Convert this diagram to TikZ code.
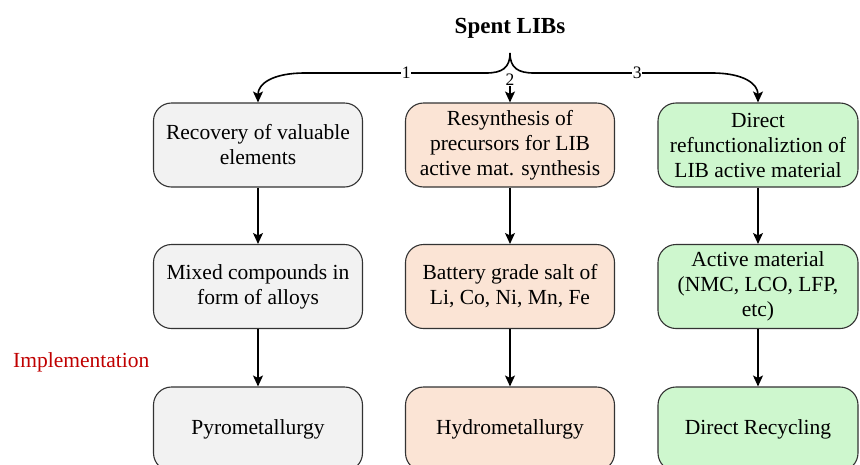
\documentclass[tikz,border=0pt]{standalone}
\usepackage{fontspec}
\setmainfont{Liberation Serif}
\usetikzlibrary{arrows.meta}
\definecolor{boxgray}{HTML}{F2F2F2}
\definecolor{boxpeach}{HTML}{FBE4D5}
\definecolor{boxgreen}{HTML}{CEF7CE}
\definecolor{edgegray}{HTML}{333333}
\definecolor{implred}{HTML}{C00000}
\tikzset{
  stage/.style={draw=edgegray, line width=1.1pt, rounded corners=18pt,
    minimum height=84pt, inner sep=0pt, align=center,
    font=\fontsize{21.5}{25}\selectfont},
  graybox/.style={stage, fill=boxgray, minimum width=209pt},
  peachbox/.style={stage, fill=boxpeach, minimum width=209pt},
  greenbox/.style={stage, fill=boxgreen, minimum width=200pt},
  flow/.style={line width=1.6pt, -{Stealth[length=11pt,width=10pt,inset=2.5pt]}},
  branch/.style={fill=white, inner sep=0.5pt, font=\fontsize{17.5}{19}\selectfont},
}
\begin{document}
\begin{tikzpicture}[x=1pt,y=-1pt]
\useasboundingbox (0,0) rectangle (860,464);

% title and side label
\node[font=\fontsize{23}{27}\selectfont\bfseries, anchor=base] (title) at (510,33) {Spent LIBs};
\node[text=implred, font=\fontsize{21.5}{25}\selectfont, anchor=west, inner sep=0pt] (impl) at (13,362) {Implementation};

% column 1
\node[graybox] (a1) at (258,145) {Recovery of valuable\\elements};
\node[graybox] (a2) at (258,286.5) {Mixed compounds in\\form of alloys};
\node[graybox] (a3) at (258,429) {Pyrometallurgy};

% column 2
\node[peachbox] (b1) at (510,145) {Resynthesis of\\precursors for LIB\\active mat. synthesis};
\node[peachbox] (b2) at (510,286.5) {Battery grade salt of\\Li, Co, Ni, Mn, Fe};
\node[peachbox] (b3) at (510,429) {Hydrometallurgy};

% column 3
\node[greenbox] (c1) at (758,145) {Direct\\refunctionaliztion of\\LIB active material};
\node[greenbox] (c2) at (758,286.5) {Active material\\(NMC, LCO, LFP,\\etc)};
\node[greenbox] (c3) at (758,429) {Direct Recycling};

% brace splitting into three routes
\coordinate (tip) at (510,53);
\draw[flow] (tip) .. controls (510,68) and (502,73) .. (486,73)
  -- (305,73) node[branch, pos=0.44] (n1) {1}
  .. controls (272,73) and (258,84) .. (a1.north);
\draw[flow] (tip) .. controls (510,68) and (518,73) .. (534,73)
  -- (712,73) node[branch, pos=0.58] (n3) {3}
  .. controls (744,73) and (758,84) .. (c1.north);
\node[branch, fill=none] (n2) at (510,80) {2};
\draw[flow] (n2.south) -- (b1.north);

% vertical flows
\draw[flow] (a1) -- (a2);
\draw[flow] (a2) -- (a3);
\draw[flow] (b1) -- (b2);
\draw[flow] (b2) -- (b3);
\draw[flow] (c1) -- (c2);
\draw[flow] (c2) -- (c3);
\end{tikzpicture}
\end{document}
